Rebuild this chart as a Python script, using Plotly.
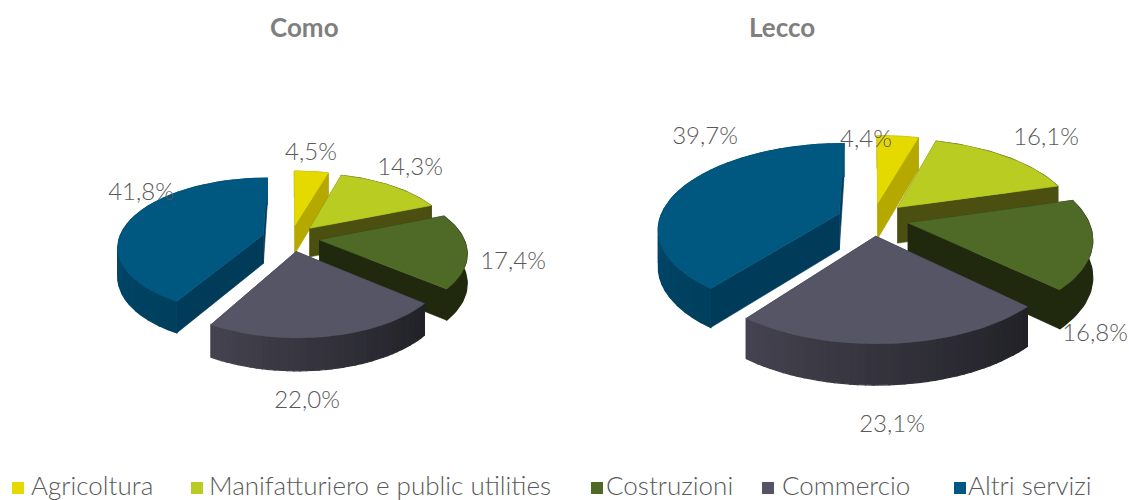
import math
import plotly.graph_objects as go

categories = ["Agricoltura", "Manifatturiero e public utilities", "Costruzioni", "Commercio", "Altri servizi"]
como_values = [4.5, 14.3, 17.4, 22.0, 41.8]
lecco_values = [4.4, 16.1, 16.8, 23.1, 39.7]
chart_titles = ["Como", "Lecco"]

top_colors = ["#E4DA00", "#B9CC22", "#4F6A27", "#565566", "#005880"]
radial_wall_colors = ["#B5A900", "#4B4F10", "#20290E", "#2A2A33", "#003B5A"]
rim_colors_start = ["#B5A900", "#4B4F10", "#20290E", "#202026", "#003F5E"]
rim_colors_end = ["#B5A900", "#4B4F10", "#20290E", "#45434F", "#00547C"]
draw_order = [0, 1, 4, 2, 3]

A, B, PERSP, HEIGHT, EXPLODE = 144.0, 66.9, 0.165, 29.0, 0.20
GEOM = {"Como": (291, 238, 1.0), "Lecco": (873, 219, 1.247)}
LABEL_POS = {
    "Como": [(311, 154), (410, 169), (513, 263), (307, 402), (141, 194)],
    "Lecco": [(866, 141), (1046, 139), (1095, 335), (892, 426), (705, 138)],
}
TITLE_POS = {"Como": (304, 27), "Lecco": (782, 27)}
LEGEND_SQUARE_X = [18, 197, 597, 768, 960]
LEGEND_TEXT_X = [31, 209, 606, 782, 968]
LEGEND_Y = 488
FONT = "Lato Light, Lato"
TEXT = "#595959"


def hex2rgb(h):
    return tuple(int(h[i:i + 2], 16) for i in (1, 3, 5))


def mix(a, b, t):
    ca, cb = hex2rgb(a), hex2rgb(b)
    return "rgb(%d,%d,%d)" % tuple(round(x + (y - x) * t) for x, y in zip(ca, cb))


def proj(X, Y, geom, down=False):
    cx, cy, s = geom
    f = 1 / (1 + PERSP * Y)
    px = cx + A * s * X * f
    py = cy - B * s * Y * f
    if down:
        py += HEIGHT * s * f ** 0.6
    return px, py


fig = go.Figure()


def poly(pts, color, width=0.6):
    xs = [p[0] for p in pts] + [pts[0][0]]
    ys = [p[1] for p in pts] + [pts[0][1]]
    fig.add_trace(go.Scatter(x=xs, y=ys, mode="lines", fill="toself", fillcolor=color,
                             line=dict(color=color, width=width), hoverinfo="skip", showlegend=False))


def draw_pie(name, values):
    geom = GEOM[name]
    total = sum(values)
    starts, acc = [], 0.0
    for v in values:
        starts.append(acc)
        acc += v
    for i in draw_order:
        t0 = starts[i] / total * 2 * math.pi
        t1 = (starts[i] + values[i]) / total * 2 * math.pi
        mid = (t0 + t1) / 2
        ox, oy = EXPLODE * math.sin(mid), EXPLODE * math.cos(mid)
        n = max(32, int((t1 - t0) / math.radians(2)))
        thetas = [t0 + (t1 - t0) * k / n for k in range(n + 1)]
        rim = [(ox + math.sin(t), oy + math.cos(t)) for t in thetas]
        apex = (ox, oy)
        # radial walls
        for edge in (rim[0], rim[-1]):
            poly([proj(*apex, geom), proj(*edge, geom), proj(*edge, geom, True), proj(*apex, geom, True)],
                 radial_wall_colors[i])
        # outer wall, in shaded strips
        strips = 32 if rim_colors_start[i] != rim_colors_end[i] else 1
        for j in range(strips):
            a = j * n // strips
            b = (j + 1) * n // strips
            seg = rim[a:b + 1]
            color = mix(rim_colors_start[i], rim_colors_end[i], (j + 0.5) / strips)
            poly([proj(*q, geom) for q in seg] + [proj(*q, geom, True) for q in reversed(seg)], color, 1.2)
        # top face
        poly([proj(*apex, geom)] + [proj(*q, geom) for q in rim], top_colors[i])
    # value labels
    pos = LABEL_POS[name]
    fig.add_trace(go.Scatter(
        x=[p[0] for p in pos], y=[p[1] for p in pos], mode="text",
        text=[("%.1f%%" % v).replace(".", ",") for v in values],
        textposition="middle center", textfont=dict(family=FONT, size=24, color=TEXT),
        hoverinfo="skip", showlegend=False))
    tx, ty = TITLE_POS[name]
    fig.add_annotation(x=tx, y=ty, text="<b>%s</b>" % name, showarrow=False,
                       font=dict(family="Lato", size=26, color="#7F7F7F"))


draw_pie("Como", como_values)
draw_pie("Lecco", lecco_values)

for c, col, sx, tx in zip(categories, top_colors, LEGEND_SQUARE_X, LEGEND_TEXT_X):
    fig.add_trace(go.Scatter(x=[sx], y=[LEGEND_Y], mode="markers", name=c, hoverinfo="skip", showlegend=False,
                             marker=dict(symbol="square", size=12, color=col)))
    fig.add_trace(go.Scatter(x=[tx], y=[LEGEND_Y], mode="text", text=[c], textposition="middle right",
                             textfont=dict(family=FONT, size=26, color=TEXT), hoverinfo="skip", showlegend=False))

fig.update_layout(
    width=1129, height=500, margin=dict(l=0, r=0, t=0, b=0),
    paper_bgcolor="white", plot_bgcolor="white", showlegend=False,
    xaxis=dict(range=[0, 1129], visible=False, fixedrange=True),
    yaxis=dict(range=[500, 0], visible=False, fixedrange=True),
)
fig.write_html("out.html", config=dict(displayModeBar=False),
               post_script="document.body.style.margin='0';document.documentElement.style.overflow='hidden';")
